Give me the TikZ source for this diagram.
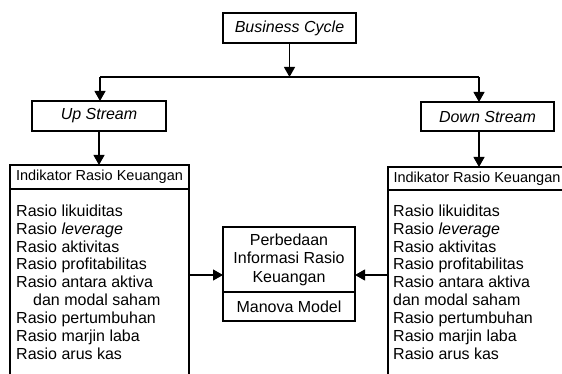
\documentclass[tikz,border=0pt]{standalone}
\usepackage{fontspec}
\setmainfont{Liberation Sans}
\usetikzlibrary{arrows.meta}
\begin{document}
\begin{tikzpicture}[x=1pt,y=-1pt,
  ln/.style={line width=1.1pt},
  box/.style={draw, ln, inner sep=0pt, outer sep=0pt, align=center},
  ital/.style={font=\fontsize{16}{18.5}\selectfont\itshape},
  hdr/.style={font=\fontsize{14.5}{18}\selectfont},
  lst/.style={anchor=north west, inner sep=0pt, align=left, font=\fontsize{16}{17.9}\selectfont},
  arr/.style={ln, -{Triangle[length=10pt,width=11pt]}},
  font=\fontsize{16}{18.5}\selectfont]
\useasboundingbox (0,0) rectangle (562,374);
\clip (0,0) rectangle (562,374);
% top
\node[box, ital, minimum width=133pt, minimum height=30pt] (bc) at (289.5,28) {Business Cycle};
\node[box, ital, minimum width=134pt, minimum height=30pt] (up) at (99,116) {Up Stream};
\node[box, ital, minimum width=133pt, minimum height=29pt] (dn) at (487.5,116.5) {Down Stream};
\coordinate (cl) at (100,77);
\coordinate (cr) at (479,77);
\coordinate (j) at (bc.south |- cl);
\draw[ln] (cl) -- (cr);
\draw[arr] (bc.south) -- (j);
\draw[arr] (cl) -- (cl |- up.north);
\draw[arr] (cr) -- (cr |- dn.north);
% left column
\node[box, hdr, minimum width=179pt, minimum height=24pt] (lh) at (99.5,177) {Indikator Rasio Keuangan};
\node[box, minimum width=179pt, minimum height=200pt, anchor=north] (lb) at (lh.south) {};
\node[lst] (ll) at (16,204.5) {Rasio likuiditas\\Rasio \textit{leverage}\\Rasio aktivitas\\Rasio profitabilitas\\Rasio antara aktiva\\\hspace*{17pt}dan modal saham\\Rasio pertumbuhan\\Rasio marjin laba\\Rasio arus kas};
\draw[arr] (up.south) -- (up.south |- lh.north);
% right column
\node[box, hdr, minimum width=178pt, minimum height=23pt] (rh) at (477,178.5) {Indikator Rasio Keuangan};
\node[box, minimum width=178pt, minimum height=200pt, anchor=north] (rb) at (rh.south) {};
\node[lst] (rl) at (393,204.5) {Rasio likuiditas\\Rasio \textit{leverage}\\Rasio aktivitas\\Rasio profitabilitas\\Rasio antara aktiva\\dan modal saham\\Rasio pertumbuhan\\Rasio marjin laba\\Rasio arus kas};
\draw[arr] (cr |- dn.south) -- (cr |- rh.north);
% middle
\node[box, minimum width=132pt, minimum height=65pt] (mt) at (289,259.5) {Perbedaan\\Informasi Rasio\\Keuangan};
\node[box, minimum width=132pt, minimum height=29pt, anchor=north] (mb) at (mt.south) {Manova Model};
\coordinate (ay) at (0,275);
\draw[arr] (lb.east |- ay) -- (mt.west |- ay);
\draw[arr] (rb.west |- ay) -- (mt.east |- ay);
\end{tikzpicture}
\end{document}
